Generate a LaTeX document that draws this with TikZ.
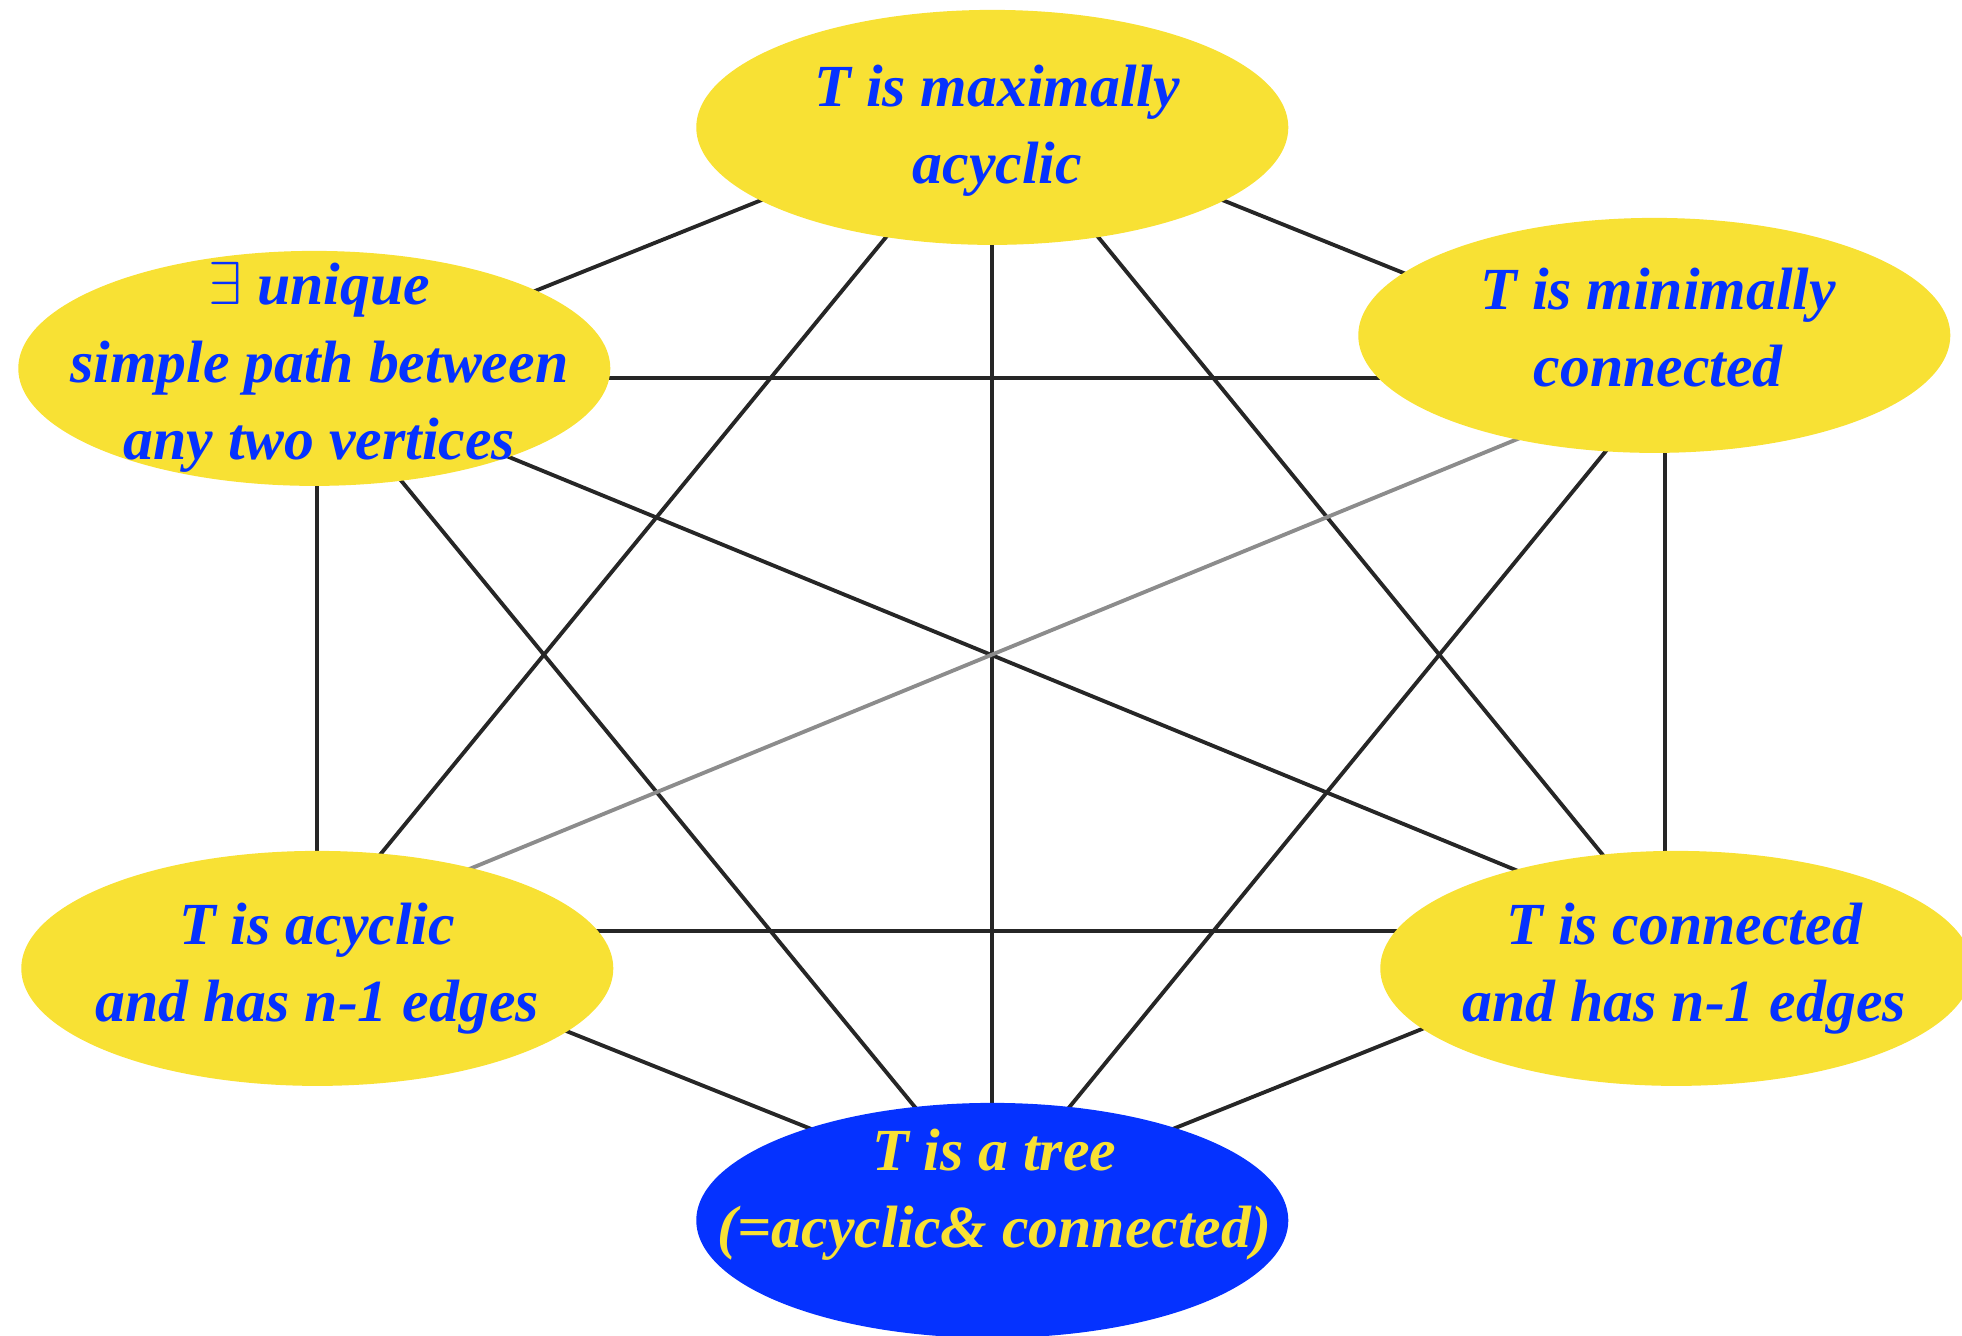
\documentclass[tikz,border=0pt]{standalone}
\usepackage{fontspec}
\setmainfont{Liberation Serif}
\usetikzlibrary{shapes.geometric}
\definecolor{TreeYellow}{RGB}{248,225,52}
\definecolor{TreeBlue}{RGB}{5,50,255}

\begin{document}
\begin{tikzpicture}[
  every node/.style={font=\fontsize{17}{22}\selectfont\bfseries\itshape},
  bubble/.style={ellipse, fill=TreeYellow, minimum width=5.92cm, minimum height=2.35cm, inner sep=0pt},
  caption/.style={align=center, text=TreeBlue, inner sep=0pt},
  edge/.style={line width=1.1pt, black!85},
  faint/.style={line width=1.1pt, black!45}
]
\useasboundingbox (-9.923,-6.816) rectangle (9.697,6.544);

% Corners of the hexagon, hidden under the ellipses
\coordinate (cTop) at (0,5.47);
\coordinate (cUL) at (-6.75,2.76);
\coordinate (cUR) at (6.73,2.76);
\coordinate (cLL) at (-6.75,-2.77);
\coordinate (cLR) at (6.73,-2.77);
\coordinate (cBot) at (0,-5.47);

% Outer hexagon
\draw[edge] (cTop) -- (cUL);
\draw[edge] (cTop) -- (cUR);
\draw[edge] (cUR) -- (cLR);
\draw[edge] (cLR) -- (cBot);
\draw[edge] (cBot) -- (cLL);
\draw[edge] (cLL) -- (cUL);

% Short diagonals
\draw[edge] (cTop) -- (cLL);
\draw[edge] (cTop) -- (cLR);
\draw[edge] (cUL) -- (cUR);
\draw[edge] (cUL) -- (cBot);
\draw[edge] (cUR) -- (cBot);
\draw[edge] (cLL) -- (cLR);

% Long diagonals through the middle
\draw[edge] (cTop) -- (cBot);
\draw[edge] (cUL) -- (cLR);
\draw[faint] (cUR) -- (cLL);

% Top: maximally acyclic
\node[bubble] (maxacyc) at (0,5.27) {};
\node[caption] (maxacycText) at (0.05,5.24) {T is maximally\\acyclic};

% Upper left: unique path
\node[bubble] (uniq) at (-6.78,2.86) {};
\node[caption] (uniqText) at (-6.73,2.87) {$\exists$ unique\\simple path between\\any two vertices};

% Upper right: minimally connected
\node[bubble] (minconn) at (6.62,3.19) {};
\node[caption] (minconnText) at (6.66,3.27) {T is minimally\\connected};

% Lower left: acyclic, n-1 edges
\node[bubble] (acycedges) at (-6.75,-3.14) {};
\node[caption] (acycedgesText) at (-6.75,-3.14) {T is acyclic\\and has n-1 edges};

% Lower right: connected, n-1 edges
\node[bubble] (connedges) at (6.84,-3.14) {};
\node[caption] (connedgesText) at (6.92,-3.14) {T is connected\\and has n-1 edges};

% Bottom: the tree itself
\node[bubble, fill=TreeBlue] (tree) at (0,-5.66) {};
\node[caption, text=TreeYellow] (treeText) at (0.02,-5.40) {T is a tree\\(=acyclic\& connected)};

\end{tikzpicture}
\end{document}
